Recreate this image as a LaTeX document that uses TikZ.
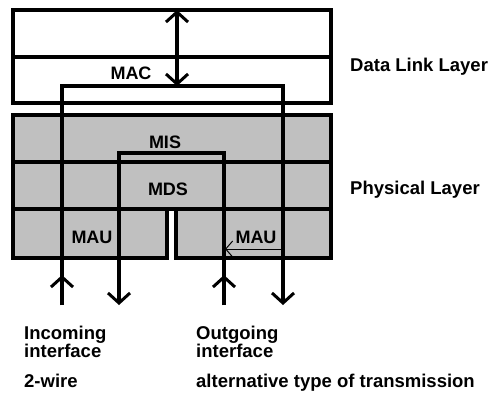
\documentclass[tikz,border=0pt]{standalone}
\usepackage{fontspec}
\setmainfont{Liberation Sans}
\usetikzlibrary{arrows.meta}
\definecolor{layergray}{RGB}{192,192,192}
\tikzset{
  thick line/.style={line width=3.2bp},
  box/.style={thick line, fill=layergray},
  wbox/.style={thick line, fill=white},
  wire/.style={thick line},
  barb/.style={-{Straight Barb[length=10bp,width=22bp,line width=3bp]}},
  dbarb/.style={{Straight Barb[length=10bp,width=22bp,line width=3bp]}-{Straight Barb[length=10bp,width=22bp,line width=3bp]}},
  thinbarb/.style={line width=1bp,-{Straight Barb[length=7bp,width=16bp,line width=1bp]}},
  lbl/.style={font=\bfseries\fontsize{18bp}{18bp}\selectfont, inner sep=0pt, anchor=base},
  txt/.style={font=\bfseries\fontsize{18.5bp}{17.5bp}\selectfont, inner sep=0pt, anchor=base west, align=left},
}
\begin{document}
\begin{tikzpicture}[x=1bp,y=-1bp]
\useasboundingbox (0,0) rectangle (491,394);
% Data link layer box
\draw[wbox] (13,10) rectangle (331,103);
\draw[thick line] (13,57) -- (331,57);
% Physical layer
\draw[box] (13,115) rectangle (331,209);
\draw[thick line] (13,162) -- (331,162);
\draw[box] (13,209) rectangle (167,258);
\draw[box] (176,209) rectangle (331,258);
% labels
\node[lbl] (mac) at (131,79) {MAC};
\node[lbl] (mis) at (165,148) {MIS};
\node[lbl] (mds) at (168,195) {MDS};
\node[lbl] (mau1) at (92,243) {MAU};
\node[lbl] (mau2) at (256,243) {MAU};
% coordinates
\coordinate (a0) at (62,305);
\coordinate (a1) at (62,86);
\coordinate (a2) at (283,86);
\coordinate (a3) at (283,305);
\coordinate (aup) at (62,275);
\coordinate (b0) at (224,305);
\coordinate (b1) at (224,153);
\coordinate (b2) at (119,153);
\coordinate (b3) at (119,305);
\coordinate (bup) at (224,275);
\coordinate (t0) at (177,10);
\coordinate (t1) at (177,86);
\coordinate (m0) at (283,249);
\coordinate (m1) at (225,249);
% wires
\draw[wire, barb] (a0) -- (a1) -- (a2) -- (a3);
\draw[wire, barb] (a0) -- (aup);
\draw[wire, barb] (b0) -- (b1) -- (b2) -- (b3);
\draw[wire, barb] (b0) -- (bup);
\draw[wire, dbarb] (t0) -- (t1);
\draw[thinbarb] (m0) -- (m1);
% side labels
\node[txt] (dll) at (350,71) {Data Link Layer};
\node[txt] (phy) at (350,194) {Physical Layer};
\node[txt] (inc) at (24,357) {Incoming\\interface};
\node[txt] (out) at (196,357) {Outgoing\\interface};
\node[txt] (two) at (24,387) {2-wire};
\node[txt] (alt) at (196,387) {alternative type of transmission};
\end{tikzpicture}
\end{document}
